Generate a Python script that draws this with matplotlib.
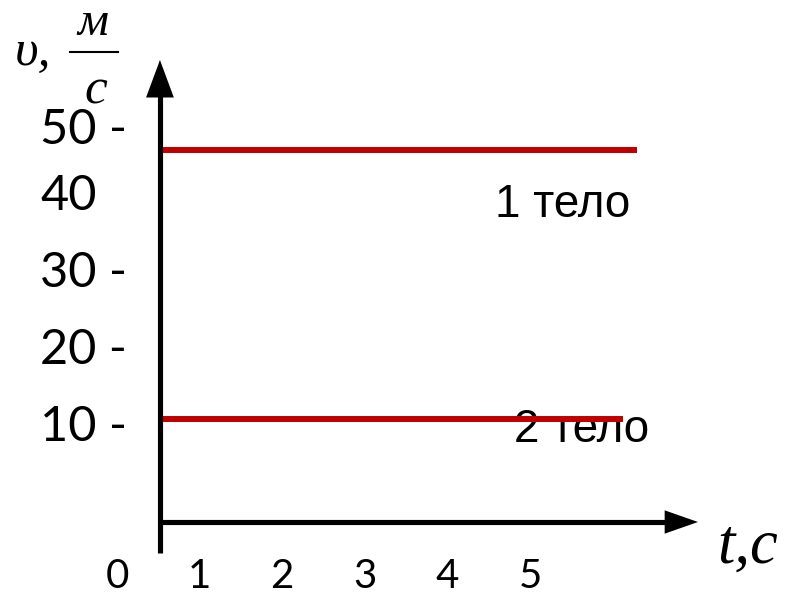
import matplotlib
matplotlib.use("Agg")
import matplotlib.pyplot as plt

# ---- data ----
t_ticks = [0, 1, 2, 3, 4, 5]
v_ticks = [10, 20, 30, 40, 50]
v_tick_dash = [True, True, True, False, True]
bodies = ["1 тело", "2 тело"]
speeds = [46.0, 11.0]          # m/s
t_end = [6.3, 6.13]            # where each red line stops
t_axis = 0.52                  # position of vertical axis along t

RED = "#C00000"
W, H = 789, 595
fig = plt.figure(figsize=(W / 100, H / 100), dpi=100)
ax = fig.add_axes([0, 0, 1, 1])
# data <-> pixel mapping: x_px = 117 + 82.6*t ; y_px = 504 - 7.7*v
ax.set_xlim(-117 / 82.6, (W - 117) / 82.6)
ax.set_ylim((504 - H) / 7.7, 504 / 7.7)
ax.axis("off")

def px2v(ypx):
    return (504 - ypx) / 7.7

def px2t(xpx):
    return (xpx - 117) / 82.6

# axes lines
y_axis_v = px2v(522)
ax.plot([t_axis, t_axis], [px2v(553), px2v(90)], color="black", lw=3.7,
        solid_capstyle="butt", zorder=3)
ax.plot([t_axis, px2t(672)], [y_axis_v, y_axis_v], color="black", lw=3.7,
        solid_capstyle="butt", zorder=3)
ax.annotate("", xy=(t_axis, px2v(60)), xytext=(t_axis, px2v(100)),
            arrowprops=dict(arrowstyle="-|>,head_length=1.35,head_width=0.5",
                            mutation_scale=20, color="black", lw=0,
                            shrinkA=0, shrinkB=0), zorder=4)
ax.annotate("", xy=(px2t(698), y_axis_v), xytext=(px2t(660), y_axis_v),
            arrowprops=dict(arrowstyle="-|>,head_length=1.2,head_width=0.42",
                            mutation_scale=20, color="black", lw=0,
                            shrinkA=0, shrinkB=0), zorder=4)

# red lines
for v, te in zip(speeds, t_end):
    ax.plot([t_axis, te], [v, v], color=RED, lw=4.3, solid_capstyle="butt",
            zorder=2)

# body labels
ax.text(px2t(495), px2v(205), bodies[0], fontsize=33, family="Liberation Sans",
        ha="left", va="center", zorder=5)
ax.text(px2t(514), px2v(430), bodies[1], fontsize=33, family="Liberation Sans",
        ha="left", va="center", zorder=1)

# tick labels
num_font = "Lato"
for v, dash in zip(v_ticks, v_tick_dash):
    off = -1.4 if v == 50 else 0.0
    ax.text(px2t(40), v + off, f"{v} -" if dash else f"{v}", fontsize=35,
            family=num_font, ha="left", va="center")
for t in t_ticks:
    ax.text(t, px2v(576), str(t), fontsize=29, family=num_font,
            ha="center", va="center")

# axis titles (italic serif)
serif = "Liberation Serif"
fig.text(15 / W, 1 - 65 / H, "υ,", fontsize=37, family=serif, style="italic",
         ha="left", va="baseline")
fig.text(93 / W, 1 - 35 / H, "м", fontsize=35, family=serif, style="italic",
         ha="center", va="baseline")
fig.add_artist(plt.Line2D([70 / W, 118 / W], [1 - 52 / H, 1 - 52 / H],
                          color="black", lw=1.5))
fig.text(96 / W, 1 - 104 / H, "с", fontsize=37, family=serif, style="italic",
         ha="center", va="baseline", zorder=6)
fig.text(717 / W, 1 - 563 / H, "t,c", fontsize=45, family=serif,
         style="italic", ha="left", va="baseline")

fig.savefig("out.png", dpi=100)
